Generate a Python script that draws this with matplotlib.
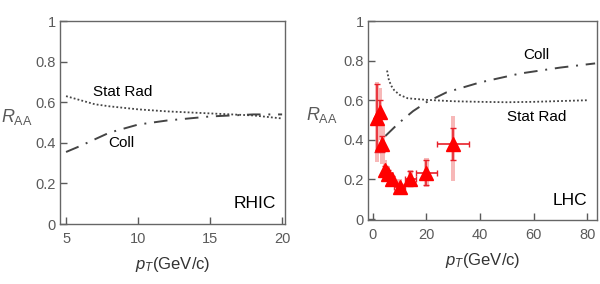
import matplotlib
matplotlib.use('Agg')
import matplotlib.pyplot as plt
import numpy as np

plt.rcParams['font.family'] = ['Liberation Sans', 'DejaVu Sans']
plt.rcParams['mathtext.fontset'] = 'custom'
plt.rcParams['mathtext.rm'] = 'Liberation Sans'
plt.rcParams['mathtext.it'] = 'Liberation Sans:italic'

# RHIC model curves
rhic_rad_x = [5, 6, 7, 8, 10, 12, 15, 18, 20]
rhic_rad_y = [0.63, 0.61, 0.59, 0.58, 0.565, 0.555, 0.545, 0.535, 0.52]
rhic_coll_x = [5, 6, 8, 10, 12, 15, 18, 20]
rhic_coll_y = [0.355, 0.385, 0.45, 0.49, 0.51, 0.53, 0.54, 0.54]

# LHC model curves
lhc_rad_x = [5.3, 6, 7, 8, 10, 13, 20, 30, 40, 50, 60, 70, 80]
lhc_rad_y = [0.75, 0.70, 0.67, 0.65, 0.627, 0.61, 0.602, 0.595, 0.592, 0.59, 0.592, 0.596, 0.60]
lhc_coll_x = [4.7, 7, 9.5, 15, 20, 27.5, 40, 55, 70, 83]
lhc_coll_y = [0.42, 0.45, 0.483, 0.545, 0.59, 0.64, 0.69, 0.735, 0.765, 0.786]

# LHC data points
pt = [1.5, 2.5, 3.5, 4.5, 5.5, 7, 10, 14, 20, 30]
pt_err = [0, 0, 0, 0, 0, 0, 2, 2, 4, 6]
raa = [0.51, 0.54, 0.38, 0.25, 0.23, 0.20, 0.16, 0.205, 0.235, 0.38]
stat = [0.17, 0.06, 0.04, 0.02, 0.02, 0.02, 0.015, 0.04, 0.065, 0.08]
sys_lo = [0.29, 0.40, 0.28, 0.20, 0.19, 0.16, 0.12, 0.16, 0.16, 0.19]
sys_hi = [0.69, 0.66, 0.47, 0.30, 0.27, 0.24, 0.20, 0.25, 0.31, 0.52]

gray = '#5a5a5a'
line_col = '#444444'

fig = plt.figure(figsize=(6, 2.84), dpi=100)
ax1 = fig.add_axes([0.100, 0.211, 0.375, 0.715])
ax2 = fig.add_axes([0.613, 0.225, 0.382, 0.701])

ax1.plot(rhic_rad_x, rhic_rad_y, ls=(0, (1, 1.2)), color=line_col, lw=1.3)
ax1.plot(rhic_coll_x, rhic_coll_y, ls=(0, (7, 4, 1, 4)), color=line_col, lw=1.4)
ax1.set_xlim(4.58, 20.2)
ax1.set_ylim(0, 1)
ax1.set_xticks([5, 10, 15, 20])
ax1.text(6.9, 0.65, 'Stat Rad', fontsize=11, va='center')
ax1.text(7.9, 0.40, 'Coll', fontsize=11, va='center')
ax1.text(19.6, 0.10, 'RHIC', fontsize=12.5, va='center', ha='right')

ax2.bar(pt, np.subtract(sys_hi, sys_lo), bottom=sys_lo, width=1.7,
        color='#f7b8b8', zorder=1)
ax2.plot(lhc_rad_x, lhc_rad_y, ls=(0, (1, 1.2)), color=line_col, lw=1.3, zorder=2)
ax2.plot(lhc_coll_x, lhc_coll_y, ls=(0, (7, 4, 1, 4)), color=line_col, lw=1.4, zorder=2)
ax2.errorbar(pt, raa, yerr=stat, xerr=pt_err, fmt='none', ecolor='#e8202a',
             elinewidth=1.2, capsize=2, zorder=3)
ax2.plot(pt, raa, '^', color='red', ms=9.5, zorder=4)
ax2.set_xlim(-1.9, 83.7)
ax2.set_ylim(-0.005, 1)
ax2.set_xticks([0, 20, 40, 60, 80])
ax2.text(56, 0.83, 'Coll', fontsize=11, va='center')
ax2.text(50, 0.515, 'Stat Rad', fontsize=11, va='center')
ax2.text(80, 0.095, 'LHC', fontsize=12.5, va='center', ha='right')

for ax, lx in ((ax1, -0.19), (ax2, -0.20)):
    ax.set_yticks([0, 0.2, 0.4, 0.6, 0.8, 1])
    ax.set_yticklabels(['0', '0.2', '0.4', '0.6', '0.8', '1'])
    ax.tick_params(direction='in', length=5, width=1, colors=gray,
                   labelsize=10.5)
    ax.tick_params(axis='x', pad=6)
    ax.tick_params(axis='y', pad=3)
    for s in ax.spines.values():
        s.set_color('#666666')
        s.set_linewidth(1)
    ax.set_ylabel(r'$R_{\mathrm{AA}}$', fontsize=13, color=gray, rotation=0)
    ax.yaxis.set_label_coords(lx, 0.48)
    ax.set_xlabel(r'$p_T$(GeV/c)', fontsize=12, color='#333333', labelpad=6)

fig.savefig('out.png', dpi=100)
